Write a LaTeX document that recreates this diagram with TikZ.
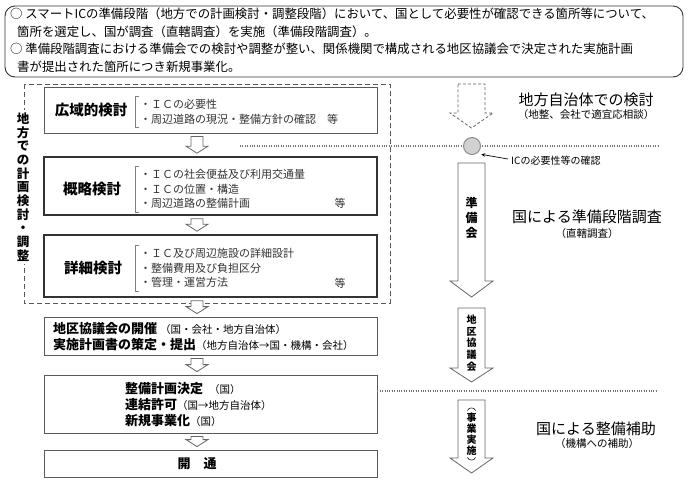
\documentclass[tikz,border=0pt]{standalone}
\usepackage{fontspec}
\setmainfont{Noto Sans CJK JP}
\usetikzlibrary{calc}
\colorlet{frame}{black!65}
\colorlet{note}{black!80}
\tikzset{
  % node options
  stage/.style={rectangle,draw=frame,line width=0.8pt,minimum width=333pt,inner sep=0pt},
  stagethick/.style={stage,draw=black!80,line width=1.6pt},
  title/.style={font=\fontsize{14.5}{16}\selectfont\bfseries},
  items/.style={align=left,anchor=west,inner sep=0pt,text=note,font=\fontsize{11}{14.5}\selectfont},
  lines/.style={align=left,anchor=west,inner sep=0pt,font=\fontsize{13}{16}\selectfont},
  vtext/.style={align=center,inner sep=0pt},
  heading/.style={inner sep=0pt,font=\fontsize{15}{17}\selectfont},
  sub/.style={inner sep=0pt,font=\fontsize{10.5}{12}\selectfont},
  % path options
  bracket/.style={draw=black!50,line width=0.5pt},
  hollow/.style={draw=black!60,fill=white,line width=0.8pt,line join=miter},
  phase/.style={draw=black!60,fill=white,line width=0.8pt},
  divider/.style={draw=black!55,line width=1.2pt,dash pattern=on 1pt off 1.4pt},
  paren/.style={draw=black!80,line width=0.7pt},
}
% small hollow arrow between two stages
\newcommand{\gapArrow}[2]{%
  \draw[hollow] let \p1=($(#1.south)+(-13.5,3)$), \p2=($(#2.north)+(-13.5,-3)$) in
    (\x1-6pt,\y1) -- (\x1+6pt,\y1) -- (\x1+6pt,\y2+7pt) -- (\x1+11pt,\y2+7pt)
    -- (\x1,\y2) -- (\x1-11pt,\y2+7pt) -- (\x1-6pt,\y2+7pt) -- cycle;}
% big arrow on the right: top, start of head, tip
\newcommand{\phaseArrow}[4][]{%
  \draw[phase,#1] (458,#2) -- (485,#2) -- (485,#3) -- (493,#3) -- (471.5,#4)
    -- (450,#3) -- (458,#3) -- cycle;}
\newcommand{\aside}{\fontsize{10.5}{12}\selectfont\mdseries}

\begin{document}
\begin{tikzpicture}[x=1pt,y=-1pt]
  \useasboundingbox (0,0) rectangle (690,482);
  % summary
  \draw[line width=0.9pt,draw=black!80,rounded corners=10pt] (5,6) rectangle (683,77);
  \node[align=left,anchor=north west,inner sep=0pt,font=\fontsize{12.4}{17.5}\selectfont] (summary) at (10,8)
    {○ スマートICの準備段階（地方での計画検討・調整段階）において、国として必要性が確認できる箇所等について、\\
     \hspace*{7pt}箇所を選定し、国が調査（直轄調査）を実施（準備段階調査）。\\
     ○ 準備段階調査における準備会での検討や調整が整い、関係機関で構成される地区協議会で決定された実施計画\\
     \hspace*{7pt}書が提出された箇所につき新規事業化。};

  % local planning stages
  \draw[draw=black!65,line width=0.9pt,dash pattern=on 5pt off 3pt] (24,84) rectangle (390,303);
  \node[vtext,fill=white,font=\fontsize{12.5}{13.7}\selectfont\bfseries,inner ysep=3pt] (local) at (23,187)
    {地\\方\\で\\の\\計\\画\\検\\討\\・\\調\\整};

  \node[stage,minimum height=46pt] (wide) at (210.5,110) {};
  \node[title] (wide title) at (91,110) {広域的検討};
  \node[items] (wide items) at (140,112) {・ＩＣの必要性\\・周辺道路の現況・整備方針の確認　等};

  \node[stagethick,minimum height=58pt] (rough) at (210.5,186) {};
  \node[title] (rough title) at (92,189) {概略検討};
  \node[items] (rough items) at (140,189) {・ＩＣの社会便益及び利用交通量\\・ＩＣの位置・構造\\・周辺道路の整備計画};
  \node[inner sep=0pt,text=note,font=\fontsize{11}{14.5}\selectfont] (rough etc) at (340,203) {等};

  \node[stagethick,minimum height=62pt] (detail) at (210.5,266) {};
  \node[title] (detail title) at (93,268) {詳細検討};
  \node[items] (detail items) at (140,268) {・ＩＣ及び周辺施設の詳細設計\\・整備費用及び負担区分\\・管理・運営方法};
  \node[inner sep=0pt,text=note,font=\fontsize{11}{14.5}\selectfont] (detail etc) at (340,283) {等};

  \foreach \n in {wide,rough,detail}
    \draw[bracket] ($(\n\space items.north west)+(-1,-3)$) -- ++(-4,0) |- ($(\n\space items.south west)+(-1,3)$);

  % agreement and project
  \node[stage,minimum height=38pt] (council) at (210.5,336) {};
  \node[lines] (council text) at (53,337)
    {\bfseries 地区協議会の開催\ {\aside（国・会社・地方自治体）}\\
     \bfseries 実施計画書の策定・提出{\aside（地方自治体→国・機構・会社）}};

  \node[stage,minimum height=58pt] (plan) at (210.5,404) {};
  \node[lines] (plan text) at (125,405)
    {\bfseries 整備計画決定\ \ {\aside（国）}\\
     \bfseries 連結許可{\aside（国→地方自治体）}\\
     \bfseries 新規事業化{\aside（国）}};

  \node[stage,minimum height=27pt] (open) at (210.5,463.5) {};
  \node[inner sep=0pt,font=\fontsize{13}{16}\selectfont\bfseries] (open text) at (197,464) {開　通};

  \gapArrow{wide}{rough}
  \gapArrow{rough}{detail}
  \gapArrow{detail}{council}
  \gapArrow{council}{plan}
  \gapArrow{plan}{open}

  % dividers
  \draw[divider] (240,146) -- (658,146);
  \draw[divider] (council.east |- 0,391) -- (658,391);

  % phases on the right
  \phaseArrow[dashed,dash pattern=on 3pt off 2pt]{84}{113}{128}
  \node[circle,draw=black!45,fill=black!18,line width=1pt,minimum size=17pt,inner sep=0pt] (check) at (472,146) {};
  \node[anchor=west,inner sep=0pt,font=\fontsize{10}{12}\selectfont] (check text) at (511,161) {ICの必要性等の確認};
  \draw[->,>=stealth,line width=0.7pt] (check text.west) ++(-3,-2) coordinate (check tail) -- ($(check.south east)+(3,2)$);

  \phaseArrow{163}{281}{297}
  \node[vtext,font=\fontsize{12}{15}\selectfont\bfseries] (prep) at (471.5,218) {準\\備\\会};
  \phaseArrow{308}{368}{382}
  \node[vtext,font=\fontsize{10}{11.6}\selectfont\bfseries] (district) at (471.5,343) {地\\区\\協\\議\\会};
  \phaseArrow{400}{458}{473}
  \node[vtext,font=\fontsize{10}{11}\selectfont\bfseries] (works) at (471.5,434) {事\\業\\実\\施};
  \draw[paren] ($(works.north)+(-4,-2)$) .. controls +(1,-3.5) and +(-1,-3.5) .. ++(8,0);
  \draw[paren] ($(works.south)+(-4,2)$) .. controls +(1,3.5) and +(-1,3.5) .. ++(8,0);

  \node[heading] (local head) at (586,100) {地方自治体での検討};
  \node[sub] (local sub) at (586,115) {（地整、会社で適宜応相談）};
  \node[heading] (survey head) at (587,217) {国による準備段階調査};
  \node[sub] (survey sub) at (587,234) {（直轄調査）};
  \node[heading] (grant head) at (596,429) {国による整備補助};
  \node[sub] (grant sub) at (597,444) {（機構への補助）};
\end{tikzpicture}
\end{document}
